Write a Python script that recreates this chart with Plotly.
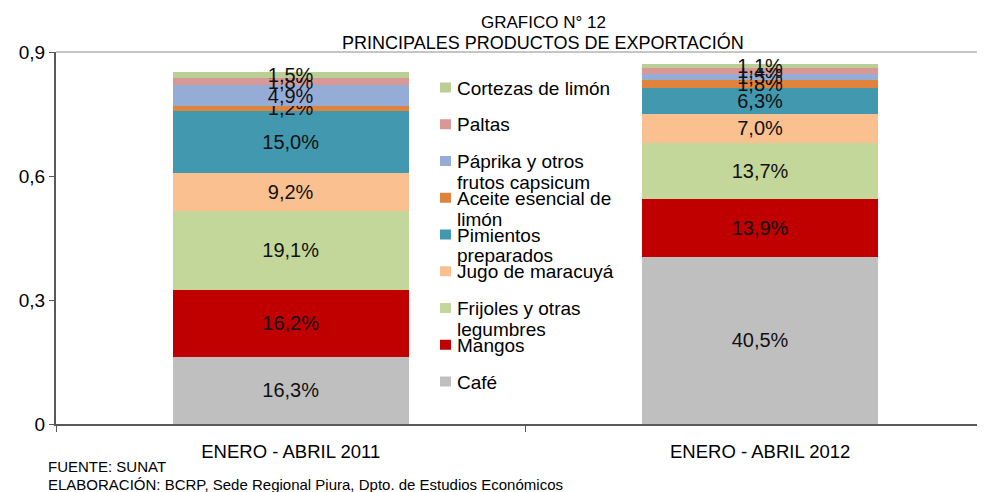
import plotly.graph_objects as go

categories = ["ENERO - ABRIL 2011", "ENERO - ABRIL 2012"]
series_names = ["Café", "Mangos", "Frijoles y otras legumbres", "Jugo de maracuyá",
                "Pimientos preparados", "Aceite esencial de limón",
                "Páprika y otros frutos capsicum", "Paltas", "Cortezas de limón"]
legend_labels = ["Café", "Mangos", "Frijoles y otras<br>legumbres", "Jugo de maracuyá",
                 "Pimientos<br>preparados", "Aceite esencial de<br>limón",
                 "Páprika y otros<br>frutos capsicum", "Paltas", "Cortezas de limón"]
cafe = [0.163, 0.405]
mangos = [0.162, 0.139]
frijoles = [0.191, 0.137]
maracuya = [0.092, 0.070]
pimientos = [0.150, 0.063]
aceite = [0.012, 0.018]
paprika = [0.049, 0.015]
paltas = [0.018, 0.014]
cortezas = [0.015, 0.011]
series_values = [cafe, mangos, frijoles, maracuya, pimientos, aceite, paprika, paltas, cortezas]
colors = ["#BFBFBF", "#C00000", "#C4D79B", "#FAC090", "#4198AF",
          "#E0833D", "#95ADD6", "#D99795", "#B9CF96"]
y_ticks = [0, 0.3, 0.6, 0.9]

FONT = "Liberation Sans, Arial, sans-serif"
OFF = 8  # page body margin
W, H = 985 - OFF, 492 - OFF
L, R, T, B = 56 - OFF, 0, 52 - OFF, 492 - 424
pw, ph = W - L - R, H - T - B


def px_x(x):
    return (x - OFF - L) / pw


def px_y(y):
    return (H - B - (y - OFF)) / ph


fig = go.Figure()
for name, vals, col in zip(series_names, series_values, colors):
    fig.add_trace(go.Bar(
        x=categories, y=vals, name=name, marker=dict(color=col, line=dict(width=0)),
        text=[f"{v*100:.1f}%".replace(".", ",") for v in vals],
        textposition="inside", insidetextanchor="middle", textangle=0,
        constraintext="none",
        textfont=dict(family=FONT, size=20, color="#111111"),
        width=0.503, showlegend=False, hoverinfo="skip"))

shapes = [dict(type="line", xref="paper", yref="paper", x0=0, x1=1, y0=1, y1=1,
               line=dict(color="#8C8C8C", width=1))]
annotations = []
# manual legend (top to bottom in reverse stacking order)
top_c, step, sw, line_gap = 87.5, 36.75, 10, 21
fs = 19
for i, idx in enumerate(range(len(series_names) - 1, -1, -1)):
    yc = top_c + i * step
    shapes.append(dict(type="rect", xref="paper", yref="paper",
                       x0=px_x(440), x1=px_x(440 + sw + 1),
                       y0=px_y(yc - sw / 2), y1=px_y(yc + sw / 2),
                       fillcolor=colors[idx], line=dict(width=0)))
    for j, part in enumerate(legend_labels[idx].split("<br>")):
        annotations.append(dict(xref="paper", yref="paper", x=px_x(455),
                                y=px_y(yc + j * line_gap + 0.5),
                                xanchor="left", yanchor="middle", align="left",
                                showarrow=False, text=part,
                                font=dict(family=FONT, size=fs, color="#000000")))

annotations += [
    dict(xref="paper", yref="paper", x=px_x(543), y=px_y(22), xanchor="center", yanchor="middle",
         text="GRAFICO N° 12", showarrow=False, font=dict(family=FONT, size=17, color="#000")),
    dict(xref="paper", yref="paper", x=px_x(543), y=px_y(42), xanchor="center", yanchor="middle",
         text="PRINCIPALES PRODUCTOS DE EXPORTACIÓN", showarrow=False,
         font=dict(family=FONT, size=18, color="#000")),
    dict(xref="paper", yref="paper", x=px_x(46), y=px_y(467), xanchor="left", yanchor="middle",
         text="FUENTE: SUNAT", showarrow=False, font=dict(family=FONT, size=15, color="#000")),
    dict(xref="paper", yref="paper", x=px_x(46), y=px_y(484), xanchor="left", yanchor="middle",
         text="ELABORACIÓN: BCRP, Sede Regional Piura, Dpto. de Estudios Económicos",
         showarrow=False, font=dict(family=FONT, size=15, color="#000")),
]

fig.update_layout(
    barmode="stack", width=W, height=H,
    margin=dict(l=L, r=R, t=T, b=B, pad=0, autoexpand=False),
    paper_bgcolor="white", plot_bgcolor="white",
    separators=",.",
    font=dict(family=FONT, color="#000"),
    shapes=shapes, annotations=annotations,
    xaxis=dict(type="category", range=[-0.5, 1.479], showgrid=False, showline=True,
               linecolor="#595959", linewidth=2, ticks="outside", tickson="boundaries",
               ticklen=6, tickcolor="#595959", tickfont=dict(family=FONT, size=18.5, color="#000"),
               ticklabelstandoff=10, zeroline=False, automargin=False),
    yaxis=dict(range=[0, 0.9], tickvals=y_ticks, showgrid=False, showline=True,
               linecolor="#595959", linewidth=2, ticks="outside", ticklen=5,
               tickcolor="#595959", tickfont=dict(family=FONT, size=19, color="#000"),
               zeroline=False, automargin=False),
)
fig.write_html("out.html")
